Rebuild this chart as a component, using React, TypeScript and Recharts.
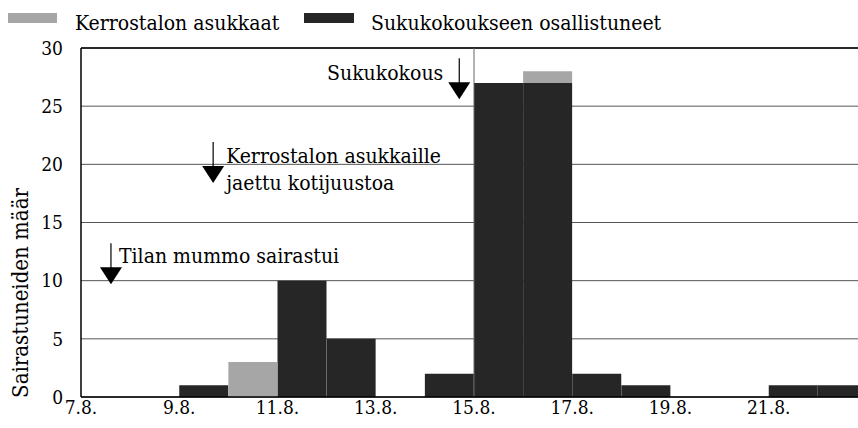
import React from 'react';
import { BarChart, Bar, XAxis, YAxis, CartesianGrid, ReferenceLine, ReferenceDot, Label } from 'recharts';

// days of August, one bin per day
const days = [7, 8, 9, 10, 11, 12, 13, 14, 15, 16, 17, 18, 19, 20, 21, 22];
const attendees = [0, 0, 1, 0, 10, 5, 0, 2, 27, 27, 2, 1, 0, 0, 1, 1];
const residents = [0, 0, 0, 3, 0, 0, 0, 0, 0, 1, 0, 0, 0, 0, 0, 0];
const xTicks = [7, 9, 11, 13, 15, 17, 19, 21];
const yTicks = [0, 5, 10, 15, 20, 25, 30];

const residentsName = 'Kerrostalon asukkaat';
const attendeesName = 'Sukukokoukseen osallistuneet';
const yLabel = 'Sairastuneiden määr';

const notes = [
  { day: 7.61, value: 9.7, lines: ['Tilan mummo sairastui'], dx: 8, dy: -21, anchor: 'start' },
  { day: 9.69, value: 18.4, lines: ['Kerrostalon asukkaille', 'jaettu kotijuustoa'], dx: 13, dy: -20, anchor: 'start' },
  { day: 14.7, value: 25.6, lines: ['Sukukokous'], dx: -16, dy: -19, anchor: 'end' },
];

const GRAY = '#a6a6a6';
const BLACK = '#262626';
const FONT = "'DejaVu Serif Condensed', 'Liberation Serif', monospace";

const CHART_W = 867;
const CHART_H = 428;
const Y_W = 81;

const data = days.map((d, i) => ({
  mid: d + 0.5,
  attendees: attendees[i],
  residents: residents[i],
}));

const Arrow = ({ cx, cy, note }: any) => {
  if (cx == null || cy == null) return null;
  return (
    <g>
      <line x1={cx} y1={cy - 41} x2={cx} y2={cy - 16} stroke="#000" strokeWidth={1.2} />
      <polygon points={`${cx - 11},${cy - 17} ${cx + 11},${cy - 17} ${cx},${cy}`} fill="#000" />
      <text x={cx + note.dx} y={cy + note.dy} textAnchor={note.anchor} fontSize={21} fill="#000" style={{ fontFamily: FONT }}>
        {note.lines.map((l: string, i: number) => (
          <tspan key={i} x={cx + note.dx} dy={i ? 27 : 0}>{l}</tspan>
        ))}
      </text>
    </g>
  );
};

export default function App() {
  return (
    <div style={{ position: 'fixed', left: 0, top: 0, width: 858, height: 428, overflow: 'hidden', background: '#fff' }}>
      <svg width={858} height={40} style={{ position: 'absolute', left: 0, top: 0 }}>
        <rect x={8} y={13} width={49} height={10} fill={GRAY} />
        <text x={75} y={30} fontSize={21} fill="#000" style={{ fontFamily: FONT }}>{residentsName}</text>
        <rect x={304} y={13} width={50} height={10} fill={BLACK} />
        <text x={371} y={30} fontSize={21} fill="#000" style={{ fontFamily: FONT }}>{attendeesName}</text>
      </svg>
      <div style={{ position: 'absolute', left: 0, top: 0 }}>
        <BarChart
          width={CHART_W}
          height={CHART_H}
          data={data}
          margin={{ top: 48, right: 0, left: 0, bottom: 0 }}
          barCategoryGap={0}
          barGap={0}
        >
          <CartesianGrid vertical={false} stroke="#555" strokeWidth={1} />
          <XAxis
            dataKey="mid"
            type="number"
            domain={[7, 23]}
            ticks={xTicks}
            allowDataOverflow
            height={31}
            tickSize={0}
            tickMargin={4}
            axisLine={{ stroke: '#000', strokeWidth: 1.5 }}
            tickFormatter={(d: number) => `${d}.8.`}
            tick={{ fontSize: 19, fill: '#000', style: { fontFamily: FONT } }}
          />
          <YAxis
            width={Y_W}
            domain={[0, 30]}
            ticks={yTicks}
            tickLine={false}
            tickSize={6}
            tickMargin={12}
            axisLine={{ stroke: '#000', strokeWidth: 1.5 }}
            tick={{ fontSize: 19, fill: '#000', style: { fontFamily: FONT } }}
          >
            <Label
              content={() => (
                <text transform="translate(28,293) rotate(-90)" textAnchor="middle" fontSize={22} fill="#000" style={{ fontFamily: FONT }}>
                  {yLabel}
                </text>
              )}
            />
          </YAxis>
          <ReferenceLine y={30} stroke="#000" strokeWidth={1.5} />
          <ReferenceLine x={15} stroke="#666" strokeWidth={1} />
          <Bar dataKey="attendees" name={attendeesName} stackId="a" fill={BLACK} isAnimationActive={false} />
          <Bar dataKey="residents" name={residentsName} stackId="a" fill={GRAY} isAnimationActive={false} />
          {notes.map((n, i) => (
            <ReferenceDot
              key={i}
              x={n.day}
              y={n.value}
              r={0}
              ifOverflow="visible"
              shape={(p: any) => <Arrow cx={p.cx} cy={p.cy} note={n} />}
            />
          ))}
        </BarChart>
      </div>
    </div>
  );
}
